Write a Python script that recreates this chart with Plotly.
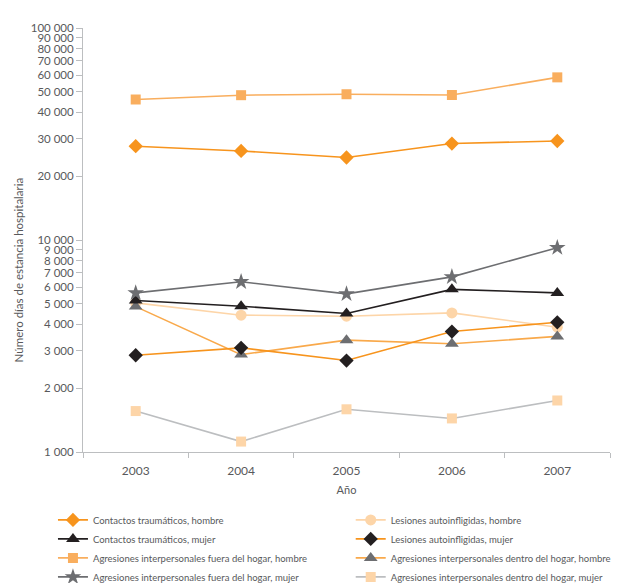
import plotly.graph_objects as go

years = ["2003", "2004", "2005", "2006", "2007"]

contactos_hombre = [27700, 26300, 24500, 28500, 29300]
contactos_mujer = [5180, 4870, 4500, 5850, 5630]
fuera_hombre = [46000, 48200, 48700, 48300, 58500]
fuera_mujer = [5630, 6350, 5570, 6700, 9200]
lesiones_hombre = [5050, 4420, 4370, 4530, 3880]
lesiones_mujer = [2860, 3100, 2700, 3700, 4090]
dentro_hombre = [4850, 2880, 3370, 3240, 3510]
dentro_mujer = [1560, 1120, 1590, 1440, 1750]

ytick_vals = [1000, 2000, 3000, 4000, 5000, 6000, 7000, 8000, 9000, 10000,
              20000, 30000, 40000, 50000, 60000, 70000, 80000, 90000, 100000]

text_color = "#58595B"
axis_color = "#BCBEC0"

# (name, values, line colour, marker symbol, marker colour, marker size, legend, rank)
series = [
    ("Agresiones interpersonales dentro del hogar, mujer", dentro_mujer, "#BCBEC0", "square", "#FDD5A8", 10, "legend2", 4),
    ("Lesiones autoinfligidas, hombre", lesiones_hombre, "#FDD5A8", "circle", "#FDD5A8", 11, "legend2", 1),
    ("Agresiones interpersonales dentro del hogar, hombre", dentro_hombre, "#F9A94B", "triangle-up", "#6D6E71", 12, "legend2", 3),
    ("Lesiones autoinfligidas, mujer", lesiones_mujer, "#F7941D", "diamond", "#231F20", 11, "legend2", 2),
    ("Contactos traumáticos, mujer", contactos_mujer, "#231F20", "triangle-up", "#231F20", 12, "legend", 2),
    ("Agresiones interpersonales fuera del hogar, mujer", fuera_mujer, "#6D6E71", "star", "#6D6E71", 12.5, "legend", 4),
    ("Agresiones interpersonales fuera del hogar, hombre", fuera_hombre, "#F9AE5E", "square", "#F9AE5E", 10, "legend", 3),
    ("Contactos traumáticos, hombre", contactos_hombre, "#F7941D", "diamond", "#F7941D", 11, "legend", 1),
]

fig = go.Figure()
for name, vals, lc, sym, mc, ms, leg, rank in series:
    fig.add_trace(go.Scatter(
        x=years, y=vals, name=name, mode="lines+markers",
        line=dict(color=lc, width=1.6),
        marker=dict(symbol=sym, color=mc, size=ms, line=dict(width=0)),
        legend=leg, legendrank=rank,
    ))

legend_style = dict(
    orientation="v", xanchor="left", yanchor="top", traceorder="normal",
    font=dict(size=9.5, color=text_color), bgcolor="rgba(0,0,0,0)",
)

# y title sits a bit below the axis middle in the original, so it is an annotation
fig.add_annotation(
    text="Número días de estancia hospitalaria", textangle=-90,
    xref="paper", yref="paper", x=-0.122, y=0.43, xanchor="center", yanchor="middle",
    showarrow=False, font=dict(size=11.5, color=text_color),
)

# the page body adds an 8px offset, so the margins are shifted to compensate
fig.update_layout(
    width=623, height=583,
    margin=dict(l=75, r=21, t=20, b=139, autoexpand=False),
    paper_bgcolor="white", plot_bgcolor="white",
    font=dict(family="Lato", size=11, color=text_color),
    separators=", ",
    showlegend=True,
    legend=dict(x=-0.057, y=-0.126, **legend_style),
    legend2=dict(x=0.508, y=-0.126, **legend_style),
    xaxis=dict(
        type="category", range=[-0.5, 4.5], showgrid=False, showline=True,
        linecolor=axis_color, linewidth=1,
        ticks="outside", tickson="boundaries", ticklen=5, tickcolor=axis_color,
        ticklabelstandoff=8,
        tickfont=dict(size=12), title=dict(text="Año", font=dict(size=11), standoff=8),
    ),
    yaxis=dict(
        type="log", range=[3, 5], showgrid=False, showline=True, linecolor=axis_color, linewidth=1,
        ticks="outside", ticklen=6, tickcolor=axis_color, tickvals=ytick_vals, tickformat=",d",
        tickfont=dict(size=11.5),
    ),
)

fig.write_html("out.html")
